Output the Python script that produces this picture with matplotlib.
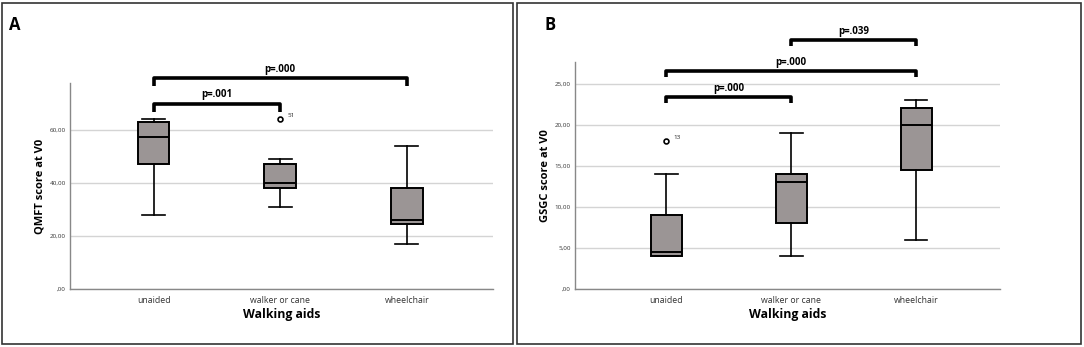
import numpy as np
import matplotlib
matplotlib.use("Agg")
import matplotlib.pyplot as plt
from matplotlib.patches import Rectangle

plt.rcParams["font.family"] = ["Open Sans", "DejaVu Sans"]

# --- data ---
categories = ["unaided", "walker or cane", "wheelchair"]

# Panel A: QMFT score at V0
qmft_whislo = [28, 31, 17]
qmft_q1 = [47, 38, 24.5]
qmft_med = [57.5, 40, 26]
qmft_q3 = [63, 47, 38]
qmft_whishi = [64, 49, 54]
qmft_fliers = [[], [64], []]
qmft_flier_ids = [[], ["51"], []]
qmft_ticks = [0, 20, 40, 60]
qmft_pairs = [(1, 2, 69.7, "p=.001"), (1, 3, 79.4, "p=.000")]

# Panel B: GSGC score at V0
gsgc_whislo = [4, 4, 6]
gsgc_q1 = [4, 8, 14.5]
gsgc_med = [4.5, 13, 20]
gsgc_q3 = [9, 14, 22]
gsgc_whishi = [14, 19, 23]
gsgc_fliers = [[18], [], []]
gsgc_flier_ids = [["13"], [], []]
gsgc_ticks = [0, 5, 10, 15, 20, 25]
gsgc_pairs = [(1, 2, 23.45, "p=.000"), (1, 3, 26.6, "p=.000"), (2, 3, 30.4, "p=.039")]

W, H = 1084, 347
fig = plt.figure(figsize=(W / 100, H / 100), dpi=100)

# panel frames
for x0, x1 in [(2, 513), (517, 1081)]:
    fig.patches.append(Rectangle((x0 / W, 3 / H), (x1 - x0) / W, (H - 6) / H,
                                 transform=fig.transFigure, fill=False,
                                 edgecolor="#333333", linewidth=1.2))

BOX_COLOR = "#9b9595"


def fmt_tick(t):
    s = ("%.2f" % t).replace(".", ",")
    return s[1:] if t == 0 else s


def draw_panel(ax, whislo, q1, med, q3, whishi, fliers, flier_ids, ticks,
               pairs, ylim, xlim, ylabel, dy_tick):
    stats = []
    for i, name in enumerate(categories):
        stats.append(dict(label=name, whislo=whislo[i], q1=q1[i], med=med[i],
                          q3=q3[i], whishi=whishi[i], fliers=fliers[i]))
    ax.bxp(stats, positions=[1, 2, 3], widths=0.25, patch_artist=True,
           boxprops=dict(facecolor=BOX_COLOR, edgecolor="black", linewidth=1.4),
           medianprops=dict(color="black", linewidth=1.4),
           whiskerprops=dict(color="black", linewidth=1.2),
           capprops=dict(color="black", linewidth=1.2),
           capwidths=0.18,
           flierprops=dict(marker="o", markersize=3.5, markerfacecolor="white",
                           markeredgecolor="black", markeredgewidth=1.2),
           zorder=3)
    # outlier case numbers
    for i, (vals, ids) in enumerate(zip(fliers, flier_ids)):
        for v, lab in zip(vals, ids):
            ax.text(i + 1 + 0.06, v + dy_tick * 0.03, lab, fontsize=4.5,
                    ha="left", va="bottom", color="#222222")
    ax.set_xlim(*xlim)
    ax.set_ylim(*ylim)
    ax.set_yticks(ticks)
    ax.set_yticklabels([fmt_tick(t) for t in ticks], fontsize=4.5,
                       color="#333333")
    ax.set_xticks([1, 2, 3])
    ax.set_xticklabels(categories, fontsize=6.3, color="#333333")
    ax.tick_params(axis="y", length=0, pad=3)
    ax.tick_params(axis="x", length=0, pad=5)
    ax.yaxis.grid(True, color="#d4d4d4", linewidth=1.0, zorder=0)
    ax.set_axisbelow(True)
    for s in ["top", "right"]:
        ax.spines[s].set_visible(False)
    for s in ["left", "bottom"]:
        ax.spines[s].set_color("#888888")
        ax.spines[s].set_linewidth(1.0)
    ax.set_ylabel(ylabel, fontsize=8, fontweight="bold", labelpad=3)
    ax.set_xlabel("Walking aids", fontsize=8.8, fontweight="bold", labelpad=2)
    # significance brackets
    drop = dy_tick * 0.15
    for a, b, y, lab in pairs:
        ax.plot([a, a, b, b], [y - drop, y, y, y - drop], color="black",
                linewidth=2.6, clip_on=False, solid_capstyle="butt",
                solid_joinstyle="round", zorder=4)
        ax.text((a + b) / 2, y + dy_tick * 0.07, lab, ha="center", va="bottom",
                fontsize=7, fontweight="bold", clip_on=False)


axA = fig.add_axes([70 / W, (H - 289) / H, 423 / W, (289 - 83) / H])
draw_panel(axA, qmft_whislo, qmft_q1, qmft_med, qmft_q3, qmft_whishi,
           qmft_fliers, qmft_flier_ids, qmft_ticks, qmft_pairs,
           (0, 77.7), (0.34, 3.68), "QMFT score at V0", 20)

axB = fig.add_axes([575 / W, (H - 289) / H, 425 / W, (289 - 61.7) / H])
draw_panel(axB, gsgc_whislo, gsgc_q1, gsgc_med, gsgc_q3, gsgc_whishi,
           gsgc_fliers, gsgc_flier_ids, gsgc_ticks, gsgc_pairs,
           (0, 27.7), (0.27, 3.67), "GSGC score at V0", 5)

fig.text(15 / W, 1 - 25 / H, "A", fontsize=12, fontweight="bold", va="center",
         ha="center")
fig.text(550 / W, 1 - 25 / H, "B", fontsize=12, fontweight="bold", va="center",
         ha="center")

fig.savefig("out.png", dpi=100)
